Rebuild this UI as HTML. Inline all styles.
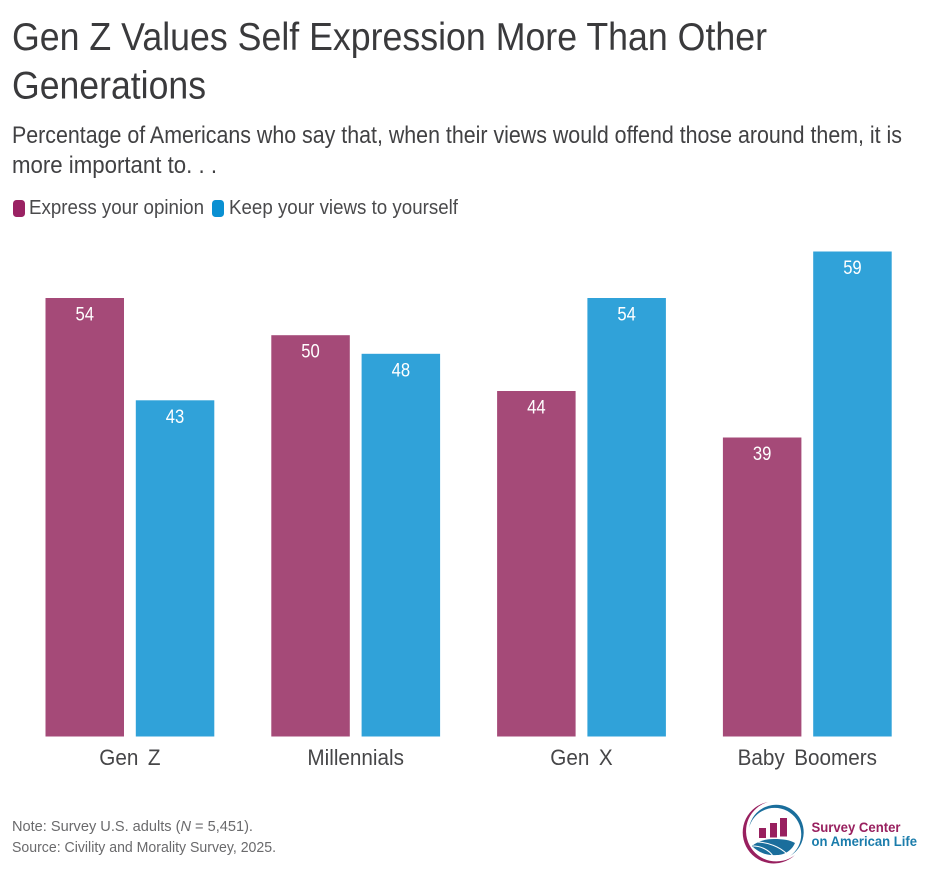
<!DOCTYPE html>
<html>
<head>
<meta charset="utf-8">
<style>
html,body{margin:0;padding:0;background:#fff;width:936px;height:894px;overflow:hidden}
svg{display:block}
text{font-family:"Liberation Sans",sans-serif}
</style>
</head>
<body>
<svg id="chart" width="936" height="894" viewBox="0 0 936 894" xmlns="http://www.w3.org/2000/svg">
  <rect x="0" y="0" width="936" height="894" fill="#ffffff"/>
  <text x="12" y="50" font-size="39" fill="#3a3a3c" textLength="755" lengthAdjust="spacingAndGlyphs">Gen Z Values Self Expression More Than Other</text>
  <text x="12" y="98.5" font-size="39" fill="#3a3a3c" textLength="194" lengthAdjust="spacingAndGlyphs">Generations</text>
  <text x="12" y="143" font-size="24" fill="#414143" textLength="890" lengthAdjust="spacingAndGlyphs">Percentage of Americans who say that, when their views would offend those around them, it is</text>
  <text x="12" y="173" font-size="24" fill="#414143" textLength="205" lengthAdjust="spacingAndGlyphs">more important to. . .</text>

  <rect x="13" y="200" width="12" height="17" rx="3.5" fill="#9a2263"/>
  <text x="29" y="214" font-size="20" fill="#4a4a4c" textLength="175" lengthAdjust="spacingAndGlyphs">Express your opinion</text>
  <rect x="212" y="200" width="12" height="17" rx="3.5" fill="#0a90d2"/>
  <text x="229" y="214" font-size="20" fill="#4a4a4c" textLength="229" lengthAdjust="spacingAndGlyphs">Keep your views to yourself</text>

  <g id="bars"></g>
  <g id="xlabels"></g>

  <text x="12" y="831" font-size="15" fill="#6a6a6c" textLength="241" lengthAdjust="spacingAndGlyphs">Note: Survey U.S. adults (<tspan font-style="italic">N</tspan> = 5,451).</text>
  <text x="12" y="852" font-size="15" fill="#6a6a6c" textLength="264" lengthAdjust="spacingAndGlyphs">Source: Civility and Morality Survey, 2025.</text>

  <g>
    <path d="M768 802 A31 31 0 1 0 795 855 A30.3 30.3 0 1 1 768 802 Z" fill="#98205f"/>
    <path d="M749 828 A27.5 27.5 0 1 1 790 856 A26.5 26.5 0 1 0 749 828 Z" fill="#1a6e9c"/>
    <rect x="759" y="828" width="7" height="10" fill="#98205f"/>
    <rect x="770" y="823" width="7" height="14.5" fill="#98205f"/>
    <rect x="780" y="818" width="7" height="18.5" fill="#98205f"/>
    <path d="M752 846 C758 841 766 839 774 839 C783 839 790 840 795 843 C792 850 785 855 777 855 C766 856 758 852 752 846 Z" fill="#1a6e9c"/>
    <path d="M756 842 C768 842 780 847 787 854" fill="none" stroke="#ffffff" stroke-width="1"/>
    <path d="M753 846 C761 846 769 850 773 856" fill="none" stroke="#ffffff" stroke-width="1"/>
    <text x="811.5" y="832" font-size="14" font-weight="bold" fill="#98205f" textLength="89" lengthAdjust="spacingAndGlyphs">Survey Center</text>
    <text x="811.5" y="846" font-size="14" font-weight="bold" fill="#1a7cab" textLength="105.5" lengthAdjust="spacingAndGlyphs">on American Life</text>
  </g>
</svg>
<script>
const categories = ["Gen Z", "Millennials", "Gen X", "Baby Boomers"];
const expressValues = [54, 50, 44, 39];
const keepValues = [43, 48, 54, 59];

const SVG_NS = "http://www.w3.org/2000/svg";
const barsGroup = document.getElementById("bars");
const labelsGroup = document.getElementById("xlabels");

function yScale(v) {
  return 736.5 - (v - 6.85) * 9.3;
}
function groupX(i) {
  return 45.5 + i * 225.8;
}

function drawBar(x, value, fill) {
  const rect = document.createElementNS(SVG_NS, "rect");
  rect.setAttribute("x", x);
  rect.setAttribute("y", yScale(value));
  rect.setAttribute("width", 78.5);
  rect.setAttribute("height", yScale(6.85) - yScale(value));
  rect.setAttribute("fill", fill);
  return rect;
}
function drawValue(x, value) {
  const t = document.createElementNS(SVG_NS, "text");
  t.setAttribute("x", x + 39.25);
  t.setAttribute("y", yScale(value) + 22.5);
  t.setAttribute("text-anchor", "middle");
  t.setAttribute("font-size", "19");
  t.setAttribute("fill", "#ffffff");
  t.setAttribute("textLength", "18.5");
  t.setAttribute("lengthAdjust", "spacingAndGlyphs");
  t.textContent = value;
  return t;
}

categories.forEach(function (cat, i) {
  const x1 = groupX(i);
  const x2 = x1 + 90.3;

  const b1 = drawBar(x1, expressValues[i], "#a54a78");
  
  
  barsGroup.appendChild(b1);

  const v1 = drawValue(x1, expressValues[i]);
  
  
  barsGroup.appendChild(v1);

  const b2 = drawBar(x2, keepValues[i], "#30a2d9");
  
  
  barsGroup.appendChild(b2);

  const v2 = drawValue(x2, keepValues[i]);
  
  
  barsGroup.appendChild(v2);

  const lab = document.createElementNS(SVG_NS, "text");
  
  
  lab.setAttribute("x", x1 + 84.4);
  lab.setAttribute("y", 765);
  lab.setAttribute("text-anchor", "middle");
  lab.setAttribute("font-size", "22");
  lab.setAttribute("word-spacing", "4");
  lab.setAttribute("fill", "#464648");
  lab.setAttribute("transform", "translate(" + (x1 + 84.4) + " 0) scale(0.94 1) translate(" + (-(x1 + 84.4)) + " 0)");
  lab.textContent = cat;
  labelsGroup.appendChild(lab);
});
</script>
</body>
</html>
